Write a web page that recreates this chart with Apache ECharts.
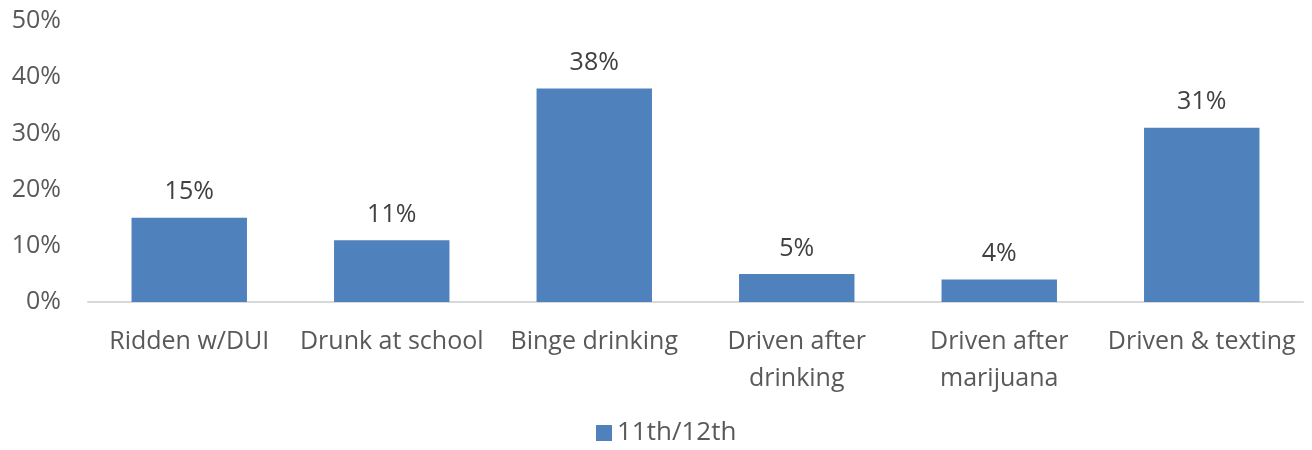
<!DOCTYPE html>
<html>
<head>
<meta charset="utf-8">
<script src="https://cdn.jsdelivr.net/npm/echarts@6/dist/echarts.min.js"></script>
<style>
  html, body { margin: 0; padding: 0; background: #fff; }
  #chart { width: 1312px; height: 450px; }
</style>
</head>
<body>
<div id="chart"></div>
<script>
// Risk behaviours reported by 11th/12th graders
const categories = [
  'Ridden w/DUI',
  'Drunk at school',
  'Binge drinking',
  'Driven after\ndrinking',
  'Driven after\nmarijuana',
  'Driven & texting'
];
const seriesName = '11th/12th';
const values = [15, 11, 38, 5, 4, 31];
const yTicks = [0, 10, 20, 30, 40, 50];

const FONT = 'Open Sans, Lato, sans-serif';
const TEXT = '#595959';

const chart = echarts.init(document.getElementById('chart'), null, { renderer: 'canvas' });
chart.setOption({
  animation: false,
  textStyle: { fontFamily: FONT },
  grid: { left: 88, right: 9, top: 21, height: 281, containLabel: false },
  legend: {
    data: [seriesName],
    top: 420,
    left: 596,
    padding: 0,
    icon: 'rect',
    itemWidth: 16,
    itemHeight: 16,
    itemGap: 9,
    textStyle: { color: TEXT, fontSize: 26, fontFamily: FONT, padding: [0, 0, 0, 0] }
  },
  xAxis: {
    type: 'category',
    data: categories,
    axisLine: { lineStyle: { color: '#d9d9d9', width: 2 } },
    axisTick: { show: false },
    axisLabel: {
      interval: 0,
      color: TEXT,
      fontSize: 25,
      fontFamily: FONT,
      lineHeight: 37,
      margin: 21
    }
  },
  yAxis: {
    type: 'value',
    min: yTicks[0],
    max: yTicks[yTicks.length - 1],
    interval: 10,
    splitLine: { show: false },
    axisLine: { show: false },
    axisTick: { show: false },
    axisLabel: {
      color: TEXT,
      fontSize: 25,
      fontFamily: FONT,
      margin: 27,
      formatter: v => v + '%'
    }
  },
  series: [{
    name: seriesName,
    type: 'bar',
    data: values,
    barWidth: '57%',
    itemStyle: { color: '#4f81bd' },
    label: {
      show: true,
      position: 'top',
      distance: 13,
      color: '#404040',
      fontSize: 25,
      fontFamily: FONT,
      formatter: p => p.value + '%'
    }
  }]
});
</script>
</body>
</html>
